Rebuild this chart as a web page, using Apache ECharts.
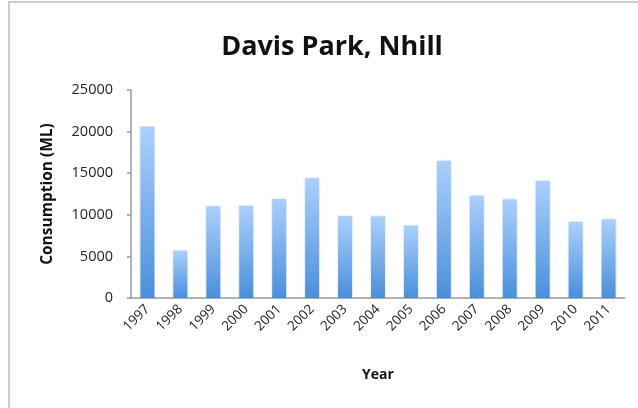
<!DOCTYPE html>
<html>
<head>
<meta charset="utf-8">
<script src="https://cdn.jsdelivr.net/npm/echarts@6/dist/echarts.min.js"></script>
<style>
  html, body { margin: 0; padding: 0; background: #fff; }
  #chart { width: 638px; height: 408px; }
</style>
</head>
<body>
<div id="chart"></div>
<script>
// Annual water consumption at Davis Park, Nhill (ML)
const years = ['1997', '1998', '1999', '2000', '2001', '2002', '2003', '2004',
               '2005', '2006', '2007', '2008', '2009', '2010', '2011'];
const consumption = [20600, 5700, 11000, 11100, 11900, 14400, 9850, 9800,
                     8700, 16500, 12300, 11850, 14100, 9150, 9450];
const yTicks = { min: 0, max: 25000, step: 5000 };

const chart = echarts.init(document.getElementById('chart'), null, { renderer: 'canvas' });
const axisGray = '#9a9a9a';
const font = '"Open Sans", "Liberation Sans", sans-serif';

chart.setOption({
  animation: false,
  graphic: [{
    type: 'rect',
    shape: { x: 9, y: 2, width: 700, height: 500 },
    style: { fill: 'none', stroke: '#cccccc', lineWidth: 2 },
    silent: true
  }],
  title: {
    text: 'Davis Park, Nhill',
    left: 327,
    top: 29,
    textAlign: 'center',
    textStyle: { fontFamily: font, fontWeight: 'bold', fontSize: 27, color: '#111' }
  },
  grid: { left: 131, right: 13, top: 90, bottom: 110, containLabel: false },
  xAxis: {
    type: 'category',
    data: years,
    name: 'Year',
    nameLocation: 'middle',
    nameGap: 70,
    nameTextStyle: { fontFamily: font, fontWeight: 'bold', fontSize: 14, color: '#111' },
    axisLine: { lineStyle: { color: axisGray, width: 1.5 } },
    axisTick: { length: 5, lineStyle: { color: axisGray, width: 1.5 } },
    axisLabel: { rotate: 45, fontFamily: font, fontSize: 13.5, color: '#222', margin: 9 }
  },
  yAxis: {
    type: 'value',
    min: yTicks.min,
    max: yTicks.max,
    interval: yTicks.step,
    name: 'Consumption (ML)',
    nameLocation: 'middle',
    nameGap: 75,
    nameTextStyle: { fontFamily: font, fontWeight: 'bold', fontSize: 15.5, color: '#111' },
    axisLine: { show: true, lineStyle: { color: axisGray, width: 1.5 } },
    axisTick: { show: true, length: 4, lineStyle: { color: axisGray, width: 1.5 } },
    splitLine: { show: false },
    axisLabel: {
      fontFamily: font, fontSize: 14.5, color: '#222', margin: 18,
      formatter: (v) => String(v)
    }
  },
  series: [{
    type: 'bar',
    data: consumption,
    barWidth: 14,
    itemStyle: {
      color: new echarts.graphic.LinearGradient(0, 0, 0, 1, [
        { offset: 0, color: '#abd0fc' },
        { offset: 1, color: '#4a8fda' }
      ]),
      shadowColor: 'rgba(60,100,160,0.25)',
      shadowBlur: 2
    }
  }]
});
</script>
</body>
</html>
